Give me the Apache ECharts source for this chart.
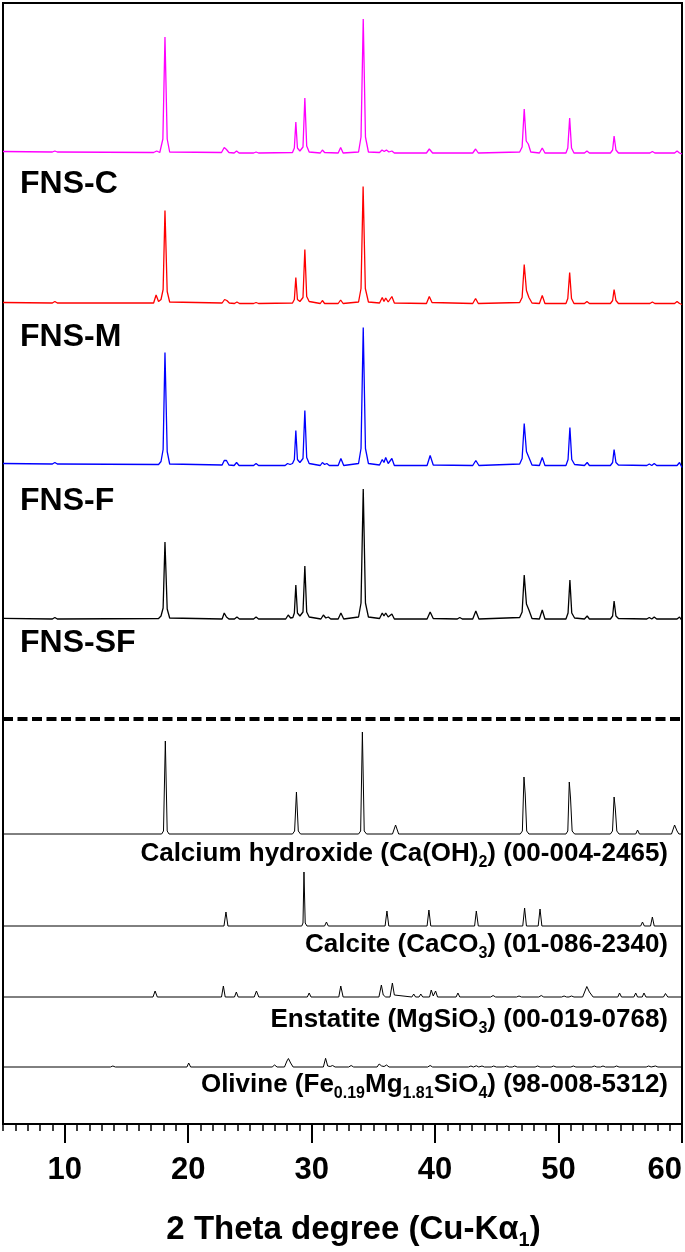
<!DOCTYPE html>
<html>
<head>
<meta charset="utf-8">
<script src="https://cdn.jsdelivr.net/npm/echarts@6/dist/echarts.min.js"></script>
<style>
  html, body { margin: 0; padding: 0; background: #fff; }
  #chart { width: 685px; height: 1252px; }
</style>
</head>
<body>
<div id="chart"></div>
<script>
// 2-theta range and tick positions
var thetaMin = 5;
var thetaMax = 60;
var majorTicks = [10, 20, 30, 40, 50, 60];

// vertical offsets of each pattern (a.u.)
var offsetFnsC = 971;
var offsetFnsM = 820.5;
var offsetFnsF = 658.5;
var offsetFnsSF = 505;
var dividerLevel = 405;
var offsetCaOH2 = 290;
var offsetCalcite = 198;
var offsetEnstatite = 127;
var offsetOlivine = 57;

// measured patterns, [2theta, intensity above own baseline]
var fnsC = [
  [5, 1.5], [9.0, 1], [9.2, 2], [9.4, 1], [17.2, 0.5], [17.45, 2], [17.7, 0.5],
  [17.95, 14], [18.12, 116], [18.3, 14], [18.5, 1],
  [22.7, 0.5], [22.92, 5.5], [23.1, 3.5], [23.3, 0.5], [23.72, 0], [23.92, 2], [24.12, 0],
  [25.3, 0], [25.5, 1], [25.7, 0],
  [28.45, 0.5], [28.6, 5], [28.72, 31], [28.85, 5], [29.05, 2], [29.3, 6], [29.45, 55], [29.6, 7], [29.8, 1],
  [30.7, 0], [30.87, 3], [31.05, 0.5], [32.15, 0], [32.35, 5.5], [32.55, 0],
  [33.8, 1], [34.0, 16], [34.18, 134], [34.36, 16], [34.6, 1],
  [35.5, 0.5], [35.7, 3], [35.88, 1.5], [36.06, 3], [36.26, 1], [36.5, 2], [36.7, 0],
  [39.3, 0], [39.53, 4], [39.8, 0], [43.05, 0], [43.28, 4], [43.5, 0],
  [46.85, 1], [47.05, 6], [47.22, 44], [47.38, 12], [47.55, 9], [47.75, 1],
  [48.45, 0], [48.68, 5], [48.9, 0],
  [50.6, 0], [50.75, 5], [50.9, 35], [51.05, 5], [51.25, 0],
  [52.1, 0], [52.3, 2], [52.5, 0],
  [54.2, 0], [54.38, 3], [54.5, 17], [54.65, 3], [54.85, 0],
  [57.4, 0], [57.6, 1.5], [57.8, 0], [59.4, 0], [59.6, 2], [59.8, 0], [60, -1]
];
var fnsM = [
  [5, 1], [9.0, 0.5], [9.2, 2], [9.4, 0.5], [17.2, 0.5], [17.4, 8.5], [17.6, 2],
  [17.8, 4], [17.97, 14], [18.12, 93], [18.3, 12], [18.5, 1.5],
  [22.75, 0.5], [22.95, 4], [23.13, 3], [23.33, 0.5], [23.75, 0], [23.95, 1.5], [24.15, 0],
  [25.3, 0], [25.5, 1], [25.7, 0],
  [28.45, 0.5], [28.6, 4], [28.72, 26], [28.85, 4], [29.05, 2], [29.3, 6], [29.45, 54], [29.6, 7], [29.8, 2],
  [30.7, 0], [30.87, 3], [31.05, 0], [32.15, 0], [32.35, 3.5], [32.55, 0],
  [33.8, 1.5], [34.0, 15], [34.17, 117], [34.35, 15], [34.6, 1.5],
  [35.5, 0.5], [35.72, 6], [35.86, 2], [36.0, 5.5], [36.2, 1.5], [36.5, 7], [36.7, 0.5],
  [39.3, 0], [39.53, 7], [39.75, 1], [43.05, 0], [43.28, 5], [43.5, 0],
  [46.85, 1], [47.05, 6], [47.22, 39], [47.4, 13], [47.6, 6], [47.85, 0.5],
  [48.45, 0], [48.68, 8], [48.9, 0],
  [50.6, 0], [50.75, 5], [50.9, 31], [51.05, 5], [51.25, 0],
  [52.1, 0], [52.3, 2], [52.5, 0],
  [54.2, 0], [54.38, 3], [54.5, 14], [54.65, 3], [54.85, 0],
  [57.4, 0], [57.6, 1.5], [57.8, 0], [59.4, 0], [59.6, 2], [59.8, 0], [60, -1]
];
var fnsF = [
  [5, 2], [9.0, 1.5], [9.2, 3], [9.4, 1.5], [17.6, 1],
  [17.8, 4], [17.97, 16], [18.12, 113], [18.3, 14], [18.5, 1.5],
  [22.75, 0.5], [22.92, 5], [23.1, 5], [23.3, 0.5], [23.72, 0], [23.92, 3], [24.12, 0],
  [25.3, 0], [25.5, 2], [25.7, 0], [27.85, 0], [28.05, 2], [28.25, 1],
  [28.45, 2], [28.6, 6], [28.72, 35], [28.85, 6], [29.05, 3], [29.3, 7], [29.45, 55], [29.6, 8], [29.8, 2],
  [30.7, 0], [30.87, 3], [31.05, 1], [31.23, 2], [31.43, 0], [32.15, 0], [32.37, 7], [32.6, 0],
  [33.8, 2], [34.0, 17], [34.18, 138], [34.36, 17], [34.6, 2],
  [35.5, 0.5], [35.72, 6], [35.86, 3], [36.0, 8], [36.2, 2], [36.5, 7], [36.7, 0],
  [39.35, 0], [39.6, 10], [39.85, 0.5], [43.05, 0], [43.3, 5], [43.55, 0],
  [46.85, 1.5], [47.05, 7], [47.22, 42], [47.4, 14], [47.6, 8], [47.85, 0.5],
  [48.45, 0], [48.68, 8], [48.9, 0],
  [50.6, 0], [50.77, 6], [50.92, 38], [51.07, 6], [51.3, 1],
  [52.1, 0], [52.32, 3], [52.5, 0],
  [54.2, 0], [54.38, 3], [54.5, 16], [54.65, 3], [54.85, 0.5],
  [57.15, 0], [57.35, 1.5], [57.55, 0], [57.75, 2], [57.95, 0], [59.6, 0], [59.8, 3], [60, -2]
];
var fnsSF = [
  [5, 0.7], [9.0, 0], [9.2, 1.5], [9.4, 0], [17.6, 0.5],
  [17.8, 3], [17.97, 11], [18.12, 77], [18.3, 10], [18.5, 1],
  [22.75, 0], [22.92, 6], [23.1, 2], [23.3, 0], [23.75, 0], [23.95, 2], [24.15, 0],
  [25.3, 0], [25.5, 2], [25.7, 0], [27.9, 0], [28.1, 4], [28.3, 1],
  [28.48, 1.5], [28.6, 6], [28.72, 34], [28.85, 6], [29.05, 3], [29.3, 7], [29.45, 53], [29.6, 7], [29.8, 2],
  [30.75, 0], [30.95, 4], [31.15, 1], [31.35, 2], [31.55, 0], [32.15, 0], [32.37, 6], [32.6, 0],
  [33.8, 2], [34.0, 16], [34.18, 130], [34.36, 16], [34.6, 2],
  [35.5, 0.5], [35.72, 6], [35.86, 3], [36.0, 6], [36.2, 2], [36.5, 5], [36.7, 0],
  [39.35, 0], [39.6, 7], [39.85, 0.5], [41.8, 0], [42.0, 1.5], [42.2, 0],
  [43.05, 0], [43.3, 8], [43.55, 0],
  [46.85, 1.5], [47.05, 7], [47.22, 44], [47.4, 15], [47.6, 9], [47.85, 0.5],
  [48.45, 0], [48.68, 9], [48.9, 0],
  [50.6, 0], [50.77, 6], [50.92, 39], [51.07, 6], [51.3, 1],
  [52.1, 0], [52.32, 3], [52.5, 0],
  [54.2, 0], [54.38, 3], [54.5, 18], [54.65, 3], [54.85, 0.5],
  [57.15, 0], [57.35, 1.5], [57.55, 0], [57.75, 2], [57.95, 0], [59.6, 0], [59.8, 2], [60, -1.7]
];

// reference cards
var caOH2 = [
  [5, 0], [17.85, 0], [18.0, 3], [18.15, 93], [18.3, 3], [18.45, 0], [28.45, 0], [28.62, 3],
  [28.77, 42], [28.92, 3], [29.1, 0], [33.8, 0], [33.97, 3], [34.11, 102], [34.26, 3],
  [34.45, 0], [36.55, 0], [36.8, 9], [37.05, 0], [46.9, 0], [47.07, 3], [47.2, 57], [47.3, 40],
  [47.42, 3], [47.6, 0], [50.6, 0], [50.75, 3], [50.87, 52], [50.97, 36], [51.1, 3], [51.3, 0],
  [54.2, 0], [54.37, 3], [54.5, 37], [54.6, 25], [54.72, 3], [54.9, 0], [56.25, 0], [56.4, 4],
  [56.55, 0], [59.15, 0], [59.4, 9], [59.6, 3], [59.75, 0], [60, 0]
];
var calcite = [
  [5, 0], [22.9, 0], [23.06, 14], [23.22, 0], [29.2, 0], [29.3, 3], [29.38, 54], [29.48, 3],
  [29.62, 0], [31.05, 0], [31.2, 4], [31.35, 0], [35.95, 0], [36.1, 15], [36.25, 0],
  [39.35, 0], [39.5, 16], [39.65, 0], [43.2, 0], [43.34, 15], [43.5, 0], [47.1, 0],
  [47.25, 18], [47.4, 0], [48.35, 0], [48.5, 17], [48.65, 0], [56.65, 0], [56.8, 4],
  [56.95, 0], [57.45, 0], [57.6, 9], [57.75, 0], [60, 0]
];
var enstatite = [
  [5, 0], [17.15, 0], [17.32, 6], [17.5, 0], [22.7, 0], [22.85, 11], [23.0, 0], [23.75, 0],
  [23.9, 5], [24.05, 0], [25.35, 0], [25.53, 6], [25.72, 0], [29.65, 0], [29.8, 4], [29.95, 0],
  [32.2, 0], [32.36, 11], [32.55, 0], [35.45, 0], [35.65, 12], [35.8, 2], [36.0, 0],
  [36.35, 0], [36.54, 14], [36.7, 2], [36.85, 0], [38.12, 0], [38.27, 3], [38.42, 0],
  [38.7, 0], [38.84, 3], [39.0, 0], [39.55, 0], [39.69, 7], [39.85, 1], [40.04, 6], [40.2, 0],
  [41.7, 0], [41.85, 4], [42.0, 0], [44.5, 0], [44.7, 1.5], [44.9, 0], [46.6, 0], [46.8, 1],
  [47.0, 0], [48.4, 0], [48.6, 1.5], [48.8, 0], [50.25, 0], [50.45, 1], [50.65, 0],
  [50.85, 0], [51.05, 1], [51.25, 0], [51.95, 0], [52.29, 10.5], [52.5, 5], [52.8, 0],
  [54.8, 0], [54.94, 4], [55.1, 0], [56.1, 0], [56.25, 4], [56.4, 0], [56.78, 0], [56.92, 4],
  [57.08, 0], [58.5, 0], [58.66, 3.5], [58.85, 0], [60, 0]
];
var olivine = [
  [5, 0], [13.7, 0], [13.9, 1], [14.1, 0], [19.9, 0], [20.04, 4], [20.2, 0], [26.8, 0],
  [27.0, 2], [27.2, 0], [27.8, 0], [28.0, 6], [28.12, 8.5], [28.3, 4], [28.5, 0],
  [30.95, 0], [31.13, 8.7], [31.3, 1], [31.5, 0.5], [31.7, 1.5], [31.9, 0], [33.0, 0],
  [33.2, 1.5], [33.4, 0], [35.3, 0], [35.47, 3], [35.67, 1], [35.87, 0.5], [36.07, 2],
  [36.27, 0], [39.4, 0], [39.6, 1.5], [39.8, 0], [42.7, 0], [42.9, 1], [43.1, 0],
  [43.34, 1.2], [43.54, 0], [43.8, 1], [44.0, 0], [44.55, 0],
  [44.75, 1], [44.95, 0], [45.6, 0], [45.8, 1], [46.0, 0], [46.25, 0], [46.45, 1], [46.65, 0],
  [48.1, 0], [48.3, 1], [48.5, 0], [49.4, 0], [49.6, 1], [49.8, 0], [51.0, 0], [51.2, 1],
  [51.4, 0], [52.7, 0], [52.9, 1], [53.1, 0], [53.4, 0], [53.6, 1], [53.8, 0], [54.5, 0],
  [54.7, 1], [54.9, 0], [57.1, 0], [57.3, 1], [57.5, 0], [57.85, 1], [58.05, 0],
  [60, 0]
];

var sampleNames = ['FNS-C', 'FNS-M', 'FNS-F', 'FNS-SF'];
var cardNames = [
  '{m|Calcium hydroxide (Ca(OH)}{s|2}{m|) (00-004-2465)}',
  '{m|Calcite (CaCO}{s|3}{m|) (01-086-2340)}',
  '{m|Enstatite (MgSiO}{s|3}{m|) (00-019-0768)}',
  '{m|Olivine (Fe}{s|0.19}{m|Mg}{s|1.81}{m|SiO}{s|4}{m|) (98-008-5312)}'
];

var FONT = '"Liberation Sans", Arial, sans-serif';

function shift(points, offset) {
  return points.map(function (p) {
    return [p[0], p[1] + offset];
  });
}

function trace(name, points, offset, color, width) {
  return {
    name: name,
    type: 'line',
    data: shift(points, offset),
    showSymbol: false,
    symbol: 'none',
    silent: true,
    lineStyle: { color: color, width: width },
    z: 3
  };
}

var chart = echarts.init(document.getElementById('chart'), null, { renderer: 'canvas' });

var richText = {
  m: { fontFamily: FONT, fontWeight: 'bold', fontSize: 26, lineHeight: 34, color: '#000' },
  s: { fontFamily: FONT, fontWeight: 'bold', fontSize: 16, lineHeight: 16, verticalAlign: 'bottom', color: '#000' }
};

var sampleLabelY = [184.5, 337.5, 501.5, 643.5];
var cardLabelY = [858, 949, 1024, 1089];

var graphics = [];
sampleNames.forEach(function (n, i) {
  graphics.push({
    type: 'text',
    left: 20,
    top: sampleLabelY[i] - 16,
    style: { text: n, fontFamily: FONT, fontWeight: 'bold', fontSize: 32, fill: '#000' }
  });
});
cardNames.forEach(function (n, i) {
  graphics.push({
    type: 'text',
    right: 17,
    top: cardLabelY[i] - 17,
    style: { text: n, rich: richText, fill: '#000' }
  });
});

var cal = trace('Ca(OH)2', caOH2, offsetCaOH2, '#000', 1);
cal.markLine = {
  silent: true,
  symbol: 'none',
  label: { show: false },
  lineStyle: { color: '#000', width: 4, type: [10, 4.5] },
  data: [{ yAxis: dividerLevel }]
};

var option = {
  animation: false,
  backgroundColor: '#fff',
  grid: {
    left: 3, right: 3, top: 3, bottom: 128,
    outerBoundsMode: 'none',
    containLabel: false,
    show: true, borderColor: '#000', borderWidth: 2
  },
  xAxis: [
    {
      type: 'value',
      min: thetaMin,
      max: thetaMax,
      interval: 5,
      name: '{m|2 Theta degree (Cu-K}{a|\u03b1}{s|1}{m|)}',
      nameLocation: 'middle',
      nameGap: 86,
      nameTextStyle: {
        padding: [0, 0, 0, 22],
        rich: {
          m: { fontFamily: FONT, fontWeight: 'bold', fontSize: 33, lineHeight: 40, color: '#000' },
          a: { fontFamily: FONT, fontWeight: 'bold', fontSize: 33, lineHeight: 40, color: '#000' },
          s: { fontFamily: FONT, fontWeight: 'bold', fontSize: 20, lineHeight: 20, verticalAlign: 'bottom', color: '#000' }
        }
      },
      axisLine: { show: true, onZero: false, lineStyle: { color: '#000', width: 2 } },
      axisTick: { show: true, length: 19, lineStyle: { color: '#000', width: 2 }, customValues: majorTicks },
      axisLabel: {
        show: true,
        customValues: majorTicks,
        margin: 31,
        fontFamily: FONT,
        fontWeight: 'bold',
        fontSize: 31,
        color: '#000',
        alignMaxLabel: 'right'
      },
      splitLine: { show: false }
    },
    {
      type: 'value',
      min: thetaMin,
      max: thetaMax,
      interval: 1,
      position: 'bottom',
      axisLine: { show: false },
      axisTick: { show: true, length: 7, lineStyle: { color: '#000', width: 1.5 } },
      axisLabel: { show: false },
      splitLine: { show: false }
    }
  ],
  yAxis: {
    type: 'value',
    min: 0,
    max: 1121,
    show: false,
    splitLine: { show: false }
  },
  series: [
    trace('FNS-C', fnsC, offsetFnsC, '#ff00ff', 1.3),
    trace('FNS-M', fnsM, offsetFnsM, '#ff0000', 1.3),
    trace('FNS-F', fnsF, offsetFnsF, '#0000ff', 1.3),
    trace('FNS-SF', fnsSF, offsetFnsSF, '#000', 1.3),
    cal,
    trace('Calcite', calcite, offsetCalcite, '#000', 1),
    trace('Enstatite', enstatite, offsetEnstatite, '#000', 1),
    trace('Olivine', olivine, offsetOlivine, '#000', 1)
  ],
  graphic: graphics
};

chart.setOption(option);
</script>
</body>
</html>
